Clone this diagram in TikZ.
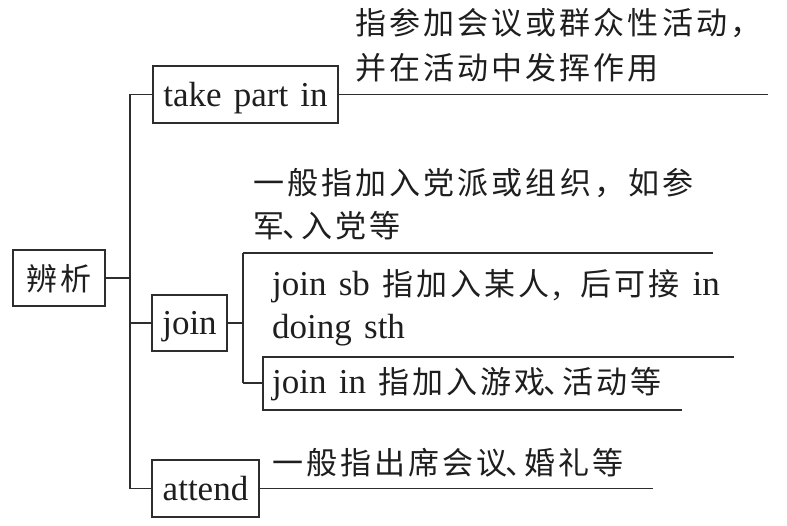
\documentclass[tikz,border=0pt]{standalone}
\usepackage{fontspec}
\setmainfont{Liberation Serif}[WordSpace=1.4]
\newfontfamily\cjk[LetterSpace=10]{Noto Sans CJK SC}
\newcommand{\zh}[1]{{\cjk\fontsize{31}{36}\selectfont #1}}
\newcommand{\dun}{\hspace{-2pt}\zh{、}\hspace{-12pt}}
\definecolor{linec}{RGB}{45,45,45}
\definecolor{textc}{RGB}{30,30,30}
\begin{document}
\begin{tikzpicture}[x=1pt,y=-1pt]
\tikzset{
  txt/.style={anchor=base west, inner sep=0pt, text=textc, font=\fontsize{35}{40}\selectfont},
  boxnode/.style={draw=linec, line width=1.5pt, inner sep=0pt, text=textc,
    font=\fontsize{35}{40}\selectfont, text height=25pt, text depth=1.4pt},
  conn/.style={draw=linec, line width=1.4pt}
}
\useasboundingbox (0,0) rectangle (787,525);
% boxes
\node[boxnode, minimum width=92pt, minimum height=56pt, text height=25pt, text depth=1pt] (bx) at (59,278) {\zh{辨析}};
\node[boxnode, minimum width=185pt, minimum height=57pt] (take) at (245.5,94.5) {take part in};
\node[boxnode, minimum width=75pt, minimum height=56pt] (join) at (189.5,323) {join};
\node[boxnode, minimum width=107pt, minimum height=57pt] (attend) at (205.5,488.5) {attend};
% coordinates
\coordinate (tx) at (130,0);
\coordinate (e1) at (768,94.5);
\coordinate (sx) at (243,323);
\coordinate (s1) at (243,253);
\coordinate (s2) at (243,383);
\coordinate (e2) at (713,253);
\coordinate (b1) at (263,357);
\coordinate (b2) at (263,410);
\coordinate (e3) at (734,357);
\coordinate (e4) at (682,410);
\coordinate (e5) at (653,488.5);
% connectors
\draw[conn] (take.west) -- (take.west -| tx) |- (attend.west);
\draw[conn] (bx.east) -- (bx.east -| tx);
\draw[conn] (join.west) -- (join.west -| tx);
\draw[conn] (take.east) -- (e1);
\draw[conn] (join.east) -- (sx);
\draw[conn] (s1) -- (s2);
\draw[conn] (s1) -- (e2);
\draw[conn] (s2) -- (s2 -| b1);
\draw[conn] (e3) -- (b1) -- (b2) -- (e4);
\draw[conn] (attend.east) -- (e5);
% texts
\node[txt] (t1) at (355,34) {\zh{指参加会议或群众性活动，}};
\node[txt] (t2) at (355,79) {\zh{并在活动中发挥作用}};
\node[txt] (t3) at (253,194) {\zh{一般指加入党派或组织，如参}};
\node[txt] (t4) at (253,237) {\zh{军}\dun\zh{入党等}};
\node[txt] (t5) at (272,295) {join sb \zh{指加入某人}\hspace{3pt},\hspace{19pt}\zh{后可接}\hspace{13pt}in};
\node[txt] (t6) at (272,338) {doing sth};
\node[txt] (t7) at (272,393) {join in \zh{指加入游戏}\dun\zh{活动等}};
\node[txt] (t8) at (272,474) {\zh{一般指出席会议}\dun\zh{婚礼等}};
\end{tikzpicture}
\end{document}
